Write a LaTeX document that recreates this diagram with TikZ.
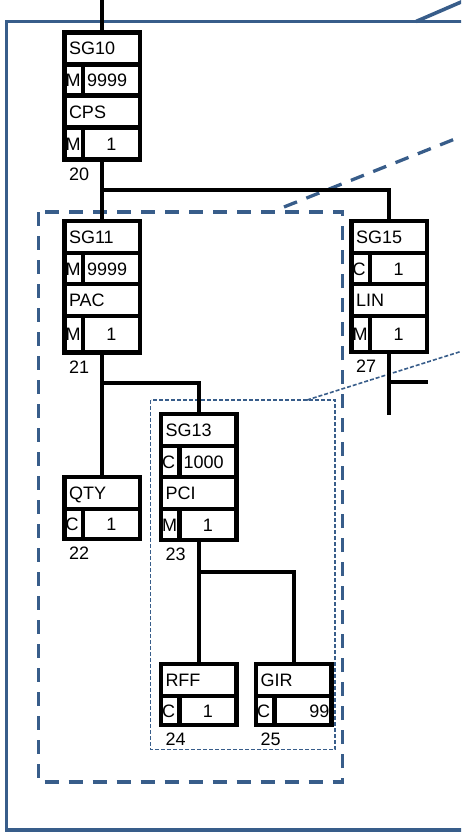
\documentclass[tikz,border=0pt]{standalone}
\usepackage{fontspec}
\setmainfont{Liberation Sans}
\usetikzlibrary{positioning}
\definecolor{frameblue}{HTML}{385D8A}
\newcommand{\segfont}{\fontsize{18}{21}\selectfont}
\tikzset{
    cell/.style={draw,line width=4.3pt,outer sep=0pt,inner ysep=0pt,text height=13pt,text depth=0pt,font=\segfont},
    head/.style={cell,anchor=north west,minimum height=32pt,text width=66.5pt,inner xsep=4.5pt,align=left},
    stat/.style={cell,minimum height=31pt,text width=16.5pt,inner xsep=1pt,align=left},
    rep/.style={cell,minimum height=31pt,text width=49pt,inner xsep=4pt,align=left},
    repmid/.style={rep,align=center},
    repright/.style={cell,minimum height=31pt,text width=53pt,inner xsep=2pt,align=right},
    tag/.style={inner sep=0pt,outer sep=0pt,text height=13pt,text depth=0pt,font=\segfont},
    link/.style={line width=4.3pt},
    frame/.style={draw=frameblue,line width=3.6pt},
    bigzoom/.style={draw=frameblue,line width=3.3pt,dash pattern=on 14pt off 10pt},
    smallzoom/.style={draw=frameblue,line width=1.6pt,dash pattern=on 4pt off 2pt}
}

\begin{document}
\begin{tikzpicture}[x=1pt,y=-1pt]

    \useasboundingbox (0,0) rectangle (461,832);
    \clip (0,0) rectangle (461,832);

    % zoom frames
    \draw[frame] (6.5,21.5) rectangle (480,830);
    \draw[frame] (416,21.5) -- (475,-4);
    \draw[bigzoom] (38.5,212) rectangle (342.5,782);
    \draw[bigzoom] (284,207) -- (475,131);
    \draw[smallzoom] (150.5,400) rectangle (335,749.5);
    \draw[smallzoom] (307,400) -- (475,347);

    % SG10
    \node[head] (sg10) at (64.5,32.5) {SG10};
    \node[stat,below right=0pt and 0pt of sg10.south west] (sg10st) {M};
    \node[rep,right=0pt of sg10st] (sg10rep) {9999};
    \node[head,below right=0pt and 0pt of sg10st.south west] (cps) {CPS};
    \node[stat,below right=0pt and 0pt of cps.south west,minimum height=32pt] (cpsst) {M};
    \node[repmid,right=0pt of cpsst,minimum height=32pt] (cpsrep) {1};
    \node[tag,below right=7.5pt and 4.5pt of cpsst.south west] (n20) {20};

    % SG11
    \node[head] (sg11) at (64.5,221) {SG11};
    \node[stat,below right=0pt and 0pt of sg11.south west] (sg11st) {M};
    \node[rep,right=0pt of sg11st] (sg11rep) {9999};
    \node[head,below right=0pt and 0pt of sg11st.south west] (pac) {PAC};
    \node[stat,below right=0pt and 0pt of pac.south west,minimum height=36.5pt] (pacst) {M};
    \node[repmid,right=0pt of pacst,minimum height=36.5pt] (pacrep) {1};
    \node[tag,below right=7.5pt and 4.5pt of pacst.south west] (n21) {21};

    % SG15
    \node[head] (sg15) at (351.5,221) {SG15};
    \node[stat,below right=0pt and 0pt of sg15.south west] (sg15st) {C};
    \node[repmid,right=0pt of sg15st] (sg15rep) {1};
    \node[head,below right=0pt and 0pt of sg15st.south west] (lin) {LIN};
    \node[stat,below right=0pt and 0pt of lin.south west,minimum height=36pt] (linst) {M};
    \node[repmid,right=0pt of linst,minimum height=36pt] (linrep) {1};
    \node[tag,below right=7.5pt and 4.5pt of linst.south west] (n27) {27};

    % QTY
    \node[head] (qty) at (64.5,477) {QTY};
    \node[stat,below right=0pt and 0pt of qty.south west,minimum height=30pt] (qtyst) {C};
    \node[repmid,right=0pt of qtyst,minimum height=30pt] (qtyrep) {1};
    \node[tag,below right=7.5pt and 4.5pt of qtyst.south west] (n22) {22};

    % SG13
    \node[head] (sg13) at (161,414) {SG13};
    \node[stat,below right=0pt and 0pt of sg13.south west] (sg13st) {C};
    \node[rep,right=0pt of sg13st] (sg13rep) {1000};
    \node[head,below right=0pt and 0pt of sg13st.south west] (pci) {PCI};
    \node[stat,below right=0pt and 0pt of pci.south west] (pcist) {M};
    \node[repmid,right=0pt of pcist] (pcirep) {1};
    \node[tag,below right=7.5pt and 4.5pt of pcist.south west] (n23) {23};

    % RFF and GIR
    \node[head] (rff) at (161,664) {RFF};
    \node[stat,below right=0pt and 0pt of rff.south west,minimum height=29pt] (rffst) {C};
    \node[repmid,right=0pt of rffst,minimum height=29pt] (rffrep) {1};
    \node[tag,below right=7.5pt and 4.5pt of rffst.south west] (n24) {24};

    \node[head] (gir) at (256,664) {GIR};
    \node[stat,below right=0pt and 0pt of gir.south west,minimum height=29pt] (girst) {C};
    \node[repright,right=0pt of girst,minimum height=29pt] (girrep) {99};
    \node[tag,below right=7.5pt and 4.5pt of girst.south west] (n25) {25};

    % branches
    \coordinate (entry) at (sg10.north |- 0,-2);
    \coordinate (j20) at (sg10.north |- 0,190);
    \coordinate (j21) at (sg11.north |- 0,383);
    \coordinate (j23) at (sg13.north |- 0,572);
    \coordinate (j27) at (sg15.north |- 0,382);
    \coordinate (exit27) at (sg15.north |- 0,415);
    \coordinate (stub27) at (428,382);

    \draw[link] (entry) -- (sg10.north);
    \draw[link] (sg10.north |- cpsst.south) -- (j20) -| (sg15.north);
    \draw[link] (j20) -- (sg11.north);
    \draw[link] (sg11.north |- pacst.south) -- (j21) -| (sg13.north);
    \draw[link] (j21) -- (qty.north);
    \draw[link] (sg13.north |- pcist.south) -- (j23) -| (gir.north);
    \draw[link] (j23) -- (rff.north);
    \draw[link] (sg15.north |- linst.south) -- (exit27);
    \draw[link] (j27) -- (stub27);

\end{tikzpicture}
\end{document}
